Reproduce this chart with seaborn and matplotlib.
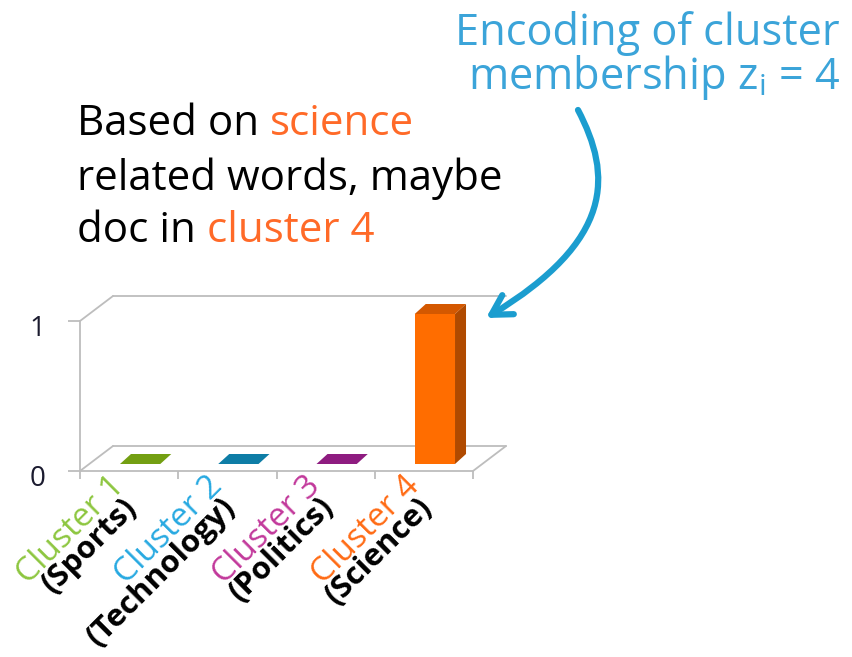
import numpy as np
import pandas as pd
import matplotlib
matplotlib.use("Agg")
import matplotlib.pyplot as plt
import seaborn as sns
from matplotlib.patches import Polygon, FancyArrowPatch
from matplotlib.path import Path
from matplotlib.lines import Line2D
from matplotlib.transforms import ScaledTranslation, IdentityTransform

# ---------------- data ----------------
categories = ["Cluster 1", "Cluster 2", "Cluster 3", "Cluster 4"]
topics = ["(Sports)", "(Technology)", "(Politics)", "(Science)"]
values = [0, 0, 0, 1]
label_colors = ["#8DC63F", "#27A9E1", "#C2399B", "#FF6A13"]
front_colors = ["#6F9A10", "#0C789F", "#8B1B7D", "#FF6D00"]
top_colors = ["#739F12", "#0E7DA6", "#8E1C80", "#D45800"]
side_colors = ["#5E840C", "#096685", "#731566", "#B04A00"]
y_ticks = [0, 1]
y_tick_labels = ["0", "1"]

# ---------------- style ----------------
sns.set_theme(style="white")
FONT = ["Open Sans", "DejaVu Sans"]
plt.rcParams["font.family"] = FONT

W, H = 852, 657
DPI = 100
fig = plt.figure(figsize=(W / DPI, H / DPI), dpi=DPI)
fig.patch.set_facecolor("white")

# front frame: x from 80 to 473 px, y=0 at 471 px, y=1 at 321 px
ax = fig.add_axes([80 / W, 1 - 471 / H, (473 - 80) / W, 150 / H])
ax.set_facecolor("none")

df = pd.DataFrame({"cluster": categories, "value": values})
sns.barplot(data=df, x="cluster", y="value", hue="cluster", palette=front_colors,
            width=0.41, saturation=1, legend=False, ax=ax, linewidth=0)

ax.set_xlim(-0.5, len(categories) - 0.5)
ax.set_ylim(0, 1)
grid_col = "#BDBDBD"
for s in ["top", "right"]:
    ax.spines[s].set_visible(False)
for s in ["left", "bottom"]:
    ax.spines[s].set_color(grid_col)
    ax.spines[s].set_linewidth(1.3)
ax.set_xlabel("")
ax.set_ylabel("")
ax.set_xticks(np.arange(-0.5, len(categories), 1.0))
ax.set_xticklabels([])
ax.set_yticks(y_ticks)
ax.set_yticklabels(y_tick_labels, fontsize=20, color="#1B1B2F")
ax.tick_params(axis="x", direction="out", length=6, width=1.3, color=grid_col, bottom=True)
ax.tick_params(axis="y", direction="out", length=9, width=1.3, color=grid_col, pad=16, left=True)
for lbl in ax.get_yticklabels():
    lbl.set_transform(lbl.get_transform() + ScaledTranslation(0, -0.04, fig.dpi_scale_trans))

fig.canvas.draw()

def px(x, y):
    return np.array(ax.transData.transform((x, y)))

# wall / floor depth (display px, y up)
D = np.array([33.0, 25.0])
x_lo, x_hi = -0.5, len(categories) - 0.5
p00, p10, p01 = px(x_lo, 0), px(x_hi, 0), px(x_lo, 1)
wall_lines = [
    (p00, p00 + D),
    (p00 + D, p10 + D),
    (p10, p10 + D),
    (p01, p01 + D),
    (p01 + D, np.array([p10[0], p01[1]]) + D),
]
for a, b in wall_lines:
    ax.add_line(Line2D([a[0], b[0]], [a[1], b[1]], transform=IdentityTransform(),
                       color=grid_col, lw=1.3, clip_on=False, zorder=0.5))

# bars: front faces shifted into the depth, plus top / side faces
F = np.array([11.0, 7.0])   # front-face offset
d = np.array([11.0, 10.0])  # bar depth
shift = ScaledTranslation(F[0] / DPI, F[1] / DPI, fig.dpi_scale_trans)
for i, patch in enumerate(ax.patches):
    patch.set_transform(ax.transData + shift)
    patch.set_clip_on(False)
    patch.set_zorder(3)
    x0, w, h = patch.get_x(), patch.get_width(), patch.get_height()
    bl, br = px(x0, 0) + F, px(x0 + w, 0) + F
    tl, tr = px(x0, h) + F, px(x0 + w, h) + F
    top = Polygon([tl, tr, tr + d, tl + d], closed=True, transform=IdentityTransform(),
                  facecolor=top_colors[i], edgecolor="none", clip_on=False, zorder=3)
    ax.add_patch(top)
    if h > 0:
        side = Polygon([br, tr, tr + d, br + d], closed=True, transform=IdentityTransform(),
                       facecolor=side_colors[i], edgecolor="none", clip_on=False, zorder=3)
        ax.add_patch(side)

# category labels (two lines, rotated)
rot = 45
for i, (c, t) in enumerate(zip(categories, topics)):
    cx = px(i, 0)[0]
    ax.text(cx + 2, H - 470, c, transform=IdentityTransform(), rotation=rot,
            ha="right", va="top", fontsize=24, color=label_colors[i], clip_on=False)
    ax.text(cx + 14, H - 492, t, transform=IdentityTransform(), rotation=rot,
            ha="right", va="top", fontsize=22.5, color="black", fontweight="bold", clip_on=False)

# left annotation text (multi-colour)
fs = 30.3
orange = "#FF6A28"
lines = [[("Based on ", "black"), ("science", orange)],
         [("related words, maybe", "black")],
         [("doc in ", "black"), ("cluster 4", orange)]]
base_y = [135, 190, 242]
renderer = fig.canvas.get_renderer()
for segs, by in zip(lines, base_y):
    x = 77
    for txt, col in segs:
        tt = fig.text(x / W, 1 - by / H, txt, fontsize=fs, color=col, va="baseline", ha="left")
        bb = tt.get_window_extent(renderer)
        x = x + bb.width

# right annotation
blue = "#3BA4D9"
fs_r = 31.2
fig.text(840 / W, 1 - 45 / H, "Encoding of cluster", fontsize=fs_r, color=blue,
         ha="right", va="baseline")
fig.text(840 / W, 1 - 89 / H, r"membership z$_\mathregular{i}$ = 4", fontsize=fs_r, color=blue,
         ha="right", va="baseline")

# curved arrow
verts = [(578, 110), (612, 175), (615, 240), (486, 318)]
verts = [(x, H - y) for x, y in verts]
path = Path(verts, [Path.MOVETO, Path.CURVE4, Path.CURVE4, Path.CURVE4])
arrow = FancyArrowPatch(path=path, arrowstyle="->,head_length=14,head_width=8",
                        transform=IdentityTransform(), color="#1B9DCF", lw=4.5,
                        capstyle="round", joinstyle="round")
fig.add_artist(arrow)

fig.savefig("out.png", dpi=DPI, facecolor="white")
